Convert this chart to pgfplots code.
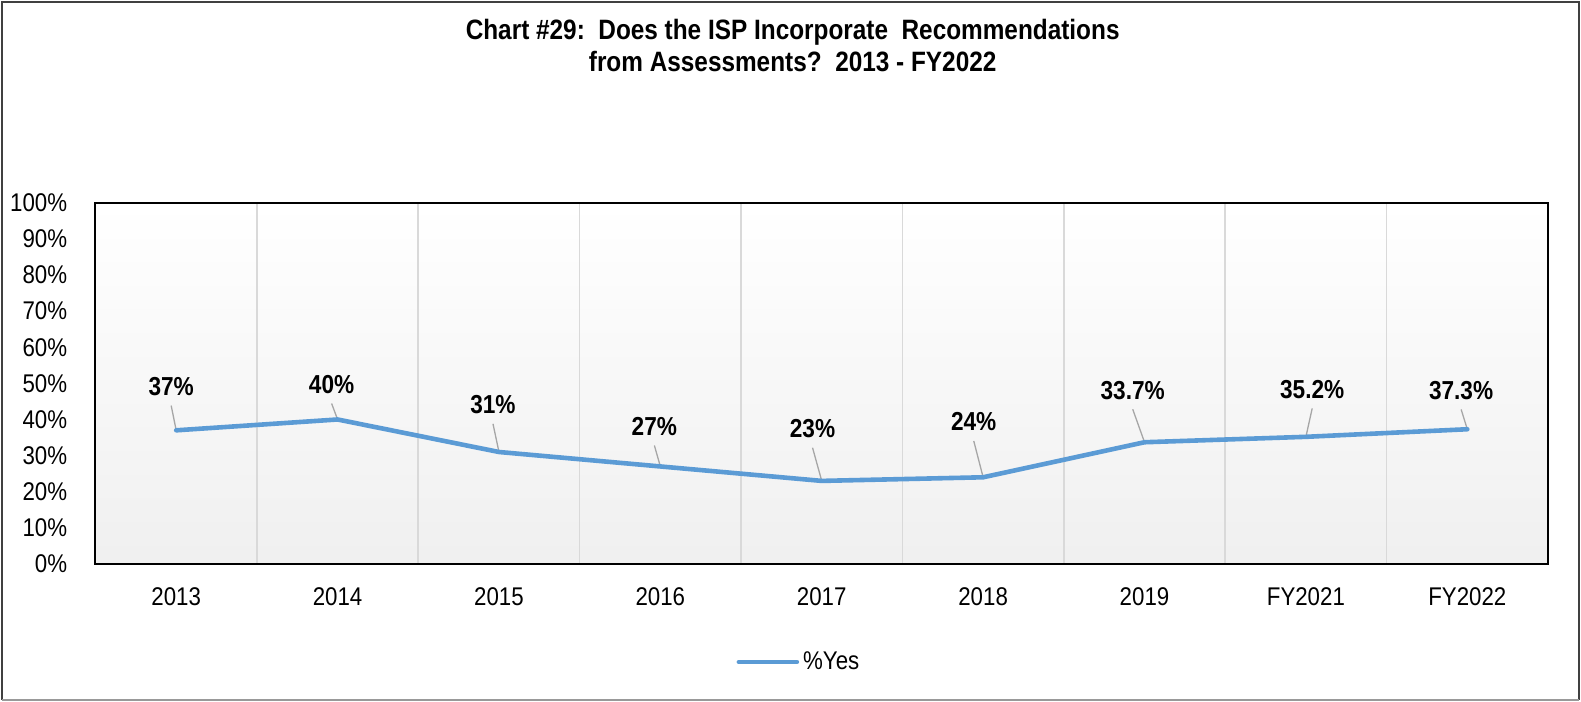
\documentclass[border=0pt]{standalone}
\usepackage{fontspec}
\setmainfont[FakeStretch=0.87]{Liberation Sans}
\usepackage{pgfplots}
\usepackage{pgfplotstable}
\pgfplotsset{compat=1.18}

\definecolor{lineblue}{HTML}{5B9BD5}
\definecolor{leadergray}{HTML}{A6A6A6}
\definecolor{gridgray}{HTML}{D9D9D9}

% x = category index, y = % yes, lx/ly = label offset (pt), u/v = leader line (data units)
\pgfplotstableread{
x y    lx   ly    u      v
0 37   -2.5 21.85 -0.031 6.84
1 40   -3.0 17.5  -0.037 4.43
2 31   -3.0 23.6  -0.037 7.80
3 27   -3.0 20.0  -0.037 5.81
4 23   -4.6 26.1  -0.057 9.19
5 24   -4.7 27.65 -0.058 10.05
6 33.7 -5.9 26.0  -0.073 9.13
7 35.2  3.15 23.7  0.039 7.86
8 37.3 -3.1 19.4  -0.038 5.48
}\yesdata

\begin{document}
\begin{tikzpicture}
\useasboundingbox (-47.75pt,-69pt) rectangle (742.75pt,282pt);
\begin{axis}[
    at={(0,0)}, anchor=south west,
    scale only axis,
    width=726.25pt, height=180.65pt,
    xmin=-0.5, xmax=8.5,
    ymin=0, ymax=100,
    xtick={0,...,8},
    xticklabels={2013,2014,2015,2016,2017,2018,2019,FY2021,FY2022},
    minor xtick={0.5,1.5,...,7.5},
    xminorgrids=true,
    minor x grid style={gridgray, line width=0.8pt},
    ytick={0,10,...,100},
    yticklabel={\pgfmathprintnumber{\tick}\%},
    major tick length=0pt, minor tick length=0pt,
    /pgf/number format/assume math mode=true,
    tick label style={font=\fontsize{12.8}{15}\selectfont},
    yticklabel style={inner sep=0pt, anchor=east, xshift=-14pt},
    xticklabel style={inner sep=0pt, anchor=north, yshift=-11.6pt},
    axis line style={black, line width=1pt},
    axis background/.style={top color=white, bottom color=black!6},
    clip=false,
    title={Chart \#29:\ \ Does the ISP Incorporate\ \ Recommendations\\from Assessments?\ \ 2013\ - FY2022},
    title style={at={(0.480,1.4005)}, anchor=center, align=center,
        font=\bfseries\fontsize{14}{16}\selectfont},
    legend style={at={(0.485,-0.271)}, anchor=center, draw=none, fill=none,
        font=\fontsize{12.8}{15}\selectfont},
    legend image code/.code={\draw[#1, line width=2.3pt] (0pt,0pt) -- (29pt,0pt);},
]
\addplot[quiver={u=\thisrow{u}, v=\thisrow{v}}, leadergray, line width=0.65pt, forget plot]
    table[x=x, y=y] {\yesdata};
\addplot[lineblue, line width=2.3pt, line join=round, line cap=round, mark=none]
    table[x=x, y=y] {\yesdata};
\addlegendentry{\%Yes}
\addplot[draw=none, mark=none, forget plot,
    point meta=y,
    visualization depends on={\thisrow{lx} \as \lx},
    visualization depends on={\thisrow{ly} \as \ly},
    nodes near coords={\pgfmathprintnumber[fixed, precision=1]{\pgfplotspointmeta}\%},
    every node near coord/.style={anchor=center, inner sep=0pt,
        xshift=\lx pt, yshift=\ly pt,
        font=\bfseries\fontsize{13}{15}\selectfont, text=black},
] table[x=x, y=y] {\yesdata};
\end{axis}
\draw[black!75, line width=1pt] (-46.75pt,-68pt) -- (-46.75pt,281pt) -- (741.75pt,281pt) -- (741.75pt,-68pt);
\draw[black!40, line width=1pt] (-46.75pt,-68pt) -- (741.75pt,-68pt);
\end{tikzpicture}
\end{document}
